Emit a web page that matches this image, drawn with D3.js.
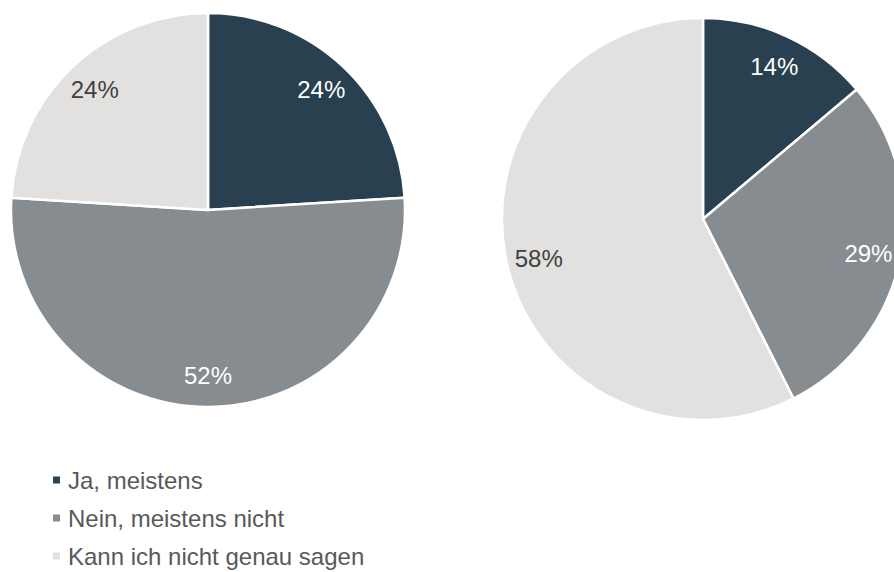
<!DOCTYPE html>
<html>
<head>
<meta charset="utf-8">
<script src="https://cdnjs.cloudflare.com/ajax/libs/d3/7.8.5/d3.min.js"></script>
<style>
  body { margin: 0; background: #fff; }
  svg { display: block; font-family: "Liberation Sans", Arial, sans-serif; }
  .label { font-size: 24px; }
  .legend text { font-size: 24px; fill: #595959; }
</style>
</head>
<body>
<svg id="svg" width="894" height="572"></svg>
<script>
var categorias = ['Ja, meistens', 'Nein, meistens nicht', 'Kann ich nicht genau sagen'];
var valoresIzquierda = [24, 52, 24];
var valoresDerecha = [14, 29, 58];
var colores = ['#284050', '#868c8f', '#e2e1e0'];
var coloresTexto = ['#ffffff', '#ffffff', '#404040'];

var svg = d3.select('svg');

var color = d3.scaleOrdinal().domain(categorias).range(colores);
var colorTexto = d3.scaleOrdinal().domain(categorias).range(coloresTexto);

var pie = d3.pie()
  .sort(null)
  .value((d) => d.value);

function dibujarTarta(valores, cx, cy, radio) {
  var datos = valores.map((v, i) => ({ categoria: categorias[i], value: v }));

  var arc = d3.arc().innerRadius(0).outerRadius(radio);
  var arcLabel = d3.arc().innerRadius(radio * 0.84).outerRadius(radio * 0.84);

  var g = svg.append('g')
    .attr('transform', `translate(${cx}, ${cy})`);

  g.selectAll('path')
    .data(pie(datos))
    .enter()
    .append('path')
    .attr('d', arc)
    .attr('fill', (d) => color(d.data.categoria))
    .attr('stroke', '#ffffff')
    .attr('stroke-width', 2.5)
    .attr('stroke-linejoin', 'round');

  g.selectAll('text')
    .data(pie(datos))
    .enter()
    .append('text')
    .attr('class', 'label')
    .attr('transform', (d) => `translate(${arcLabel.centroid(d)})`)
    .attr('text-anchor', 'middle')
    .attr('dy', '0.36em')
    .attr('fill', (d) => colorTexto(d.data.categoria))
    .text((d) => d.data.value + '%');
}

dibujarTarta(valoresIzquierda, 208, 210, 197);
dibujarTarta(valoresDerecha, 703, 219, 201);

// leyenda
var yLeyenda = d3.scalePoint()
  .domain(categorias)
  .range([480, 556]);

var leyenda = svg.append('g')
  .attr('class', 'legend')
  .selectAll('g')
  .data(categorias)
  .enter()
  .append('g')
  .attr('transform', (d) => `translate(0, ${yLeyenda(d)})`);

leyenda.append('rect')
  .attr('x', 53)
  .attr('y', -3.5)
  .attr('width', 7)
  .attr('height', 7)
  .attr('fill', (d) => color(d));

leyenda.append('text')
  .attr('x', 68)
  .attr('dy', '0.36em')
  .text((d) => d);
</script>
</body>
</html>
